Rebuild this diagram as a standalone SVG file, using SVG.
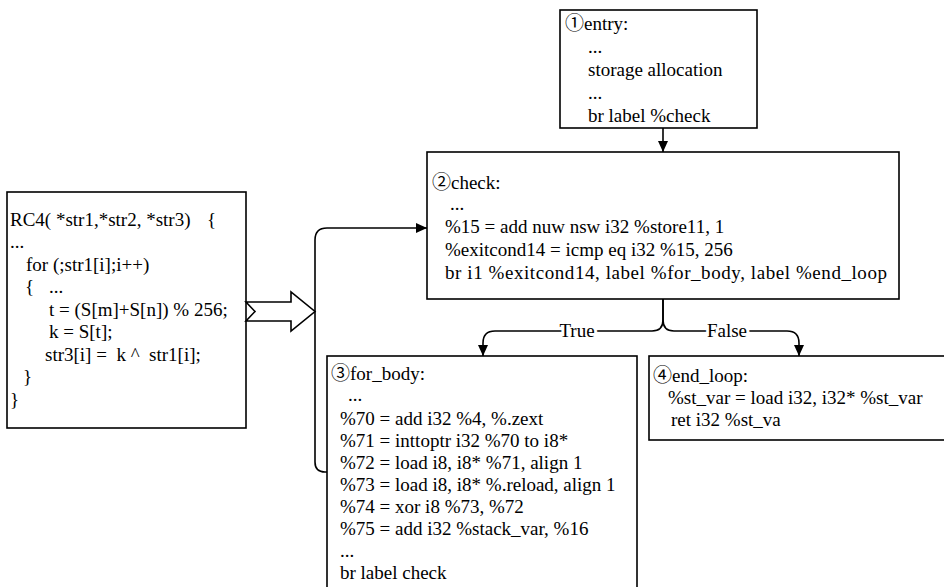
<svg xmlns="http://www.w3.org/2000/svg" width="944" height="587" viewBox="0 0 944 587">
  <defs>
    <style>
      .box { fill: #ffffff; stroke: #000000; stroke-width: 1.6; }
      .t { font-family: "Liberation Serif", "Noto Sans CJK SC", serif; font-size: 19px; fill: #000000; white-space: pre; }
      .wire { fill: none; stroke: #000000; stroke-width: 1.6; }
      .lbl { font-family: "Liberation Serif", serif; font-size: 19px; fill: #000000; text-anchor: middle; stroke: #ffffff; stroke-width: 6; paint-order: stroke; }
      .hollow { fill: #ffffff; stroke: #000000; stroke-width: 1.6; stroke-linejoin: miter; }
    </style>
    <marker id="arrow" viewBox="0 0 11 10" refX="11" refY="5" markerWidth="11" markerHeight="10" markerUnits="userSpaceOnUse" orient="auto">
      <path d="M0,0 L11,5 L0,10 Z" fill="#000000"/>
    </marker>
  </defs>

  <rect width="944" height="587" fill="#ffffff"/>

  <!-- source function -->
  <g id="rc4-source">
    <rect class="box" x="7" y="192" width="239" height="236"/>
    <text class="t" x="10" y="226">RC4( *str1,*str2, *str3)</text>
    <text class="t" x="207" y="226">{</text>
    <text class="t" x="10" y="248">...</text>
    <text class="t" x="26" y="271">for (;str1[i];i++)</text>
    <text class="t" x="25" y="293">{</text>
    <text class="t" x="49" y="293">...</text>
    <text class="t" x="49" y="316">t = (S[m]+S[n]) % 256;</text>
    <text class="t" x="49" y="338">k = S[t];</text>
    <text class="t" x="45" y="361">str3[i] =  k ^  str1[i];</text>
    <text class="t" x="23" y="383">}</text>
    <text class="t" x="10" y="406">}</text>
  </g>

  <!-- compile step arrow -->
  <g id="compile-arrow">
    <polygon class="hollow" points="246,302 291,302 291,292 315,311.5 291,331 291,321 246,321 255,311.5"/>
  </g>

  <g id="entry">
    <rect class="box" x="560" y="10" width="197" height="118"/>
    <text class="t" x="565" y="30">①entry:</text>
    <text class="t" x="588" y="53">...</text>
    <text class="t" x="588" y="76">storage allocation</text>
    <text class="t" x="588" y="99">...</text>
    <text class="t" x="588" y="122">br label %check</text>
  </g>

  <g id="check">
    <rect class="box" x="427" y="152" width="472" height="147"/>
    <text class="t" x="432" y="189">②check:</text>
    <text class="t" x="450" y="210">...</text>
    <text class="t" x="445" y="233">%15 = add nuw nsw i32 %store11, 1</text>
    <text class="t" x="445" y="256">%exitcond14 = icmp eq i32 %15, 256</text>
    <text class="t" x="445" y="279" textLength="442" lengthAdjust="spacing">br i1 %exitcond14, label %for_body, label %end_loop</text>
  </g>

  <g id="for_body">
    <rect class="box" x="327" y="356" width="310" height="250"/>
    <text class="t" x="331" y="380">③for_body:</text>
    <text class="t" x="348" y="401">...</text>
    <text class="t" x="340" y="425">%70 = add i32 %4, %.zext</text>
    <text class="t" x="340" y="447">%71 = inttoptr i32 %70 to i8*</text>
    <text class="t" x="340" y="469">%72 = load i8, i8* %71, align 1</text>
    <text class="t" x="340" y="491">%73 = load i8, i8* %.reload, align 1</text>
    <text class="t" x="340" y="513">%74 = xor i8 %73, %72</text>
    <text class="t" x="340" y="535">%75 = add i32 %stack_var, %16</text>
    <text class="t" x="340" y="557">...</text>
    <text class="t" x="340" y="579">br label check</text>
  </g>

  <g id="end_loop">
    <rect class="box" x="649" y="356" width="300" height="84"/>
    <text class="t" x="653" y="382">④end_loop:</text>
    <text class="t" x="668" y="404">%st_var = load i32, i32* %st_var</text>
    <text class="t" x="671" y="426">ret i32 %st_va</text>
  </g>

  <g id="connectors">
    <path class="wire" d="M663,128 V152" marker-end="url(#arrow)"/>
    <path class="wire" d="M327,472 H325 Q315,472 315,462 V240 Q315,228 327,228 H427" marker-end="url(#arrow)"/>
    <path class="wire" d="M663,299 V320 Q663,331 652,331 H495 Q483,331 483,343 V356" marker-end="url(#arrow)"/>
    <path class="wire" d="M663,299 V320 Q663,331 674,331 H787 Q799,331 799,343 V356" marker-end="url(#arrow)"/>
    <text class="lbl" x="577" y="337">True</text>
    <text class="lbl" x="727" y="337">False</text>
  </g>
</svg>
